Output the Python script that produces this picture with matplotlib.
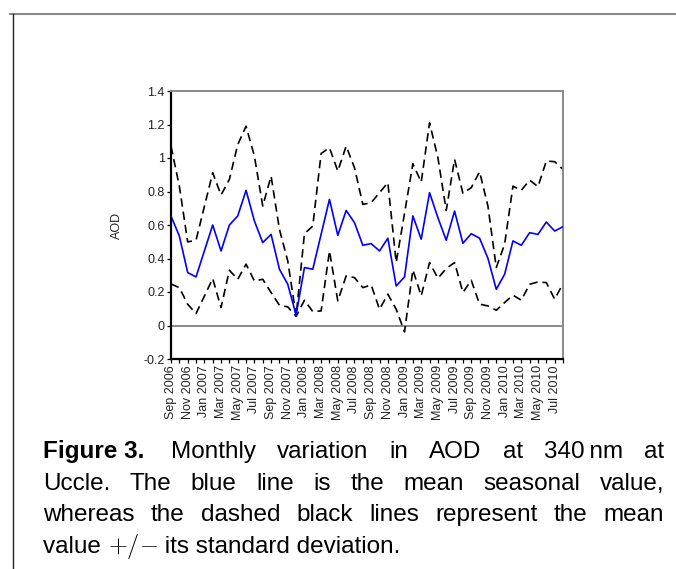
import matplotlib
matplotlib.use("Agg")
import matplotlib.pyplot as plt
from matplotlib.lines import Line2D
import pandas as pd

plt.rcParams['font.family'] = ['Liberation Sans', 'DejaVu Sans']

# monthly AOD at 340 nm, Sep 2006 .. Aug 2010
months = pd.date_range('2006-09-01', periods=48, freq='MS').strftime('%b %Y').tolist()

aod_mean = [0.654, 0.534, 0.316, 0.290, 0.445, 0.600, 0.445, 0.600, 0.654, 0.807,
            0.624, 0.495, 0.544, 0.336, 0.246, 0.063, 0.346, 0.336, 0.545, 0.753,
            0.538, 0.687, 0.614, 0.479, 0.489, 0.445, 0.521, 0.236, 0.290, 0.654,
            0.515, 0.793, 0.644, 0.509, 0.683, 0.491, 0.548, 0.521, 0.401, 0.216,
            0.306, 0.505, 0.479, 0.554, 0.544, 0.618, 0.564, 0.590]
aod_upper = [1.071, 0.832, 0.499, 0.509, 0.710, 0.912, 0.779, 0.872, 1.080, 1.190,
             1.011, 0.713, 0.892, 0.574, 0.385, 0.057, 0.548, 0.594, 1.027, 1.061,
             0.922, 1.071, 0.942, 0.723, 0.733, 0.793, 0.853, 0.376, 0.670, 0.966,
             0.856, 1.210, 1.002, 0.687, 0.992, 0.789, 0.823, 0.918, 0.713, 0.346,
             0.485, 0.832, 0.807, 0.868, 0.829, 0.982, 0.978, 0.932]
aod_lower = [0.248, 0.226, 0.127, 0.071, 0.175, 0.280, 0.107, 0.330, 0.276, 0.366,
             0.266, 0.276, 0.197, 0.121, 0.111, 0.054, 0.151, 0.083, 0.087, 0.445,
             0.147, 0.296, 0.286, 0.226, 0.242, 0.097, 0.187, 0.097, -0.038, 0.332,
             0.177, 0.376, 0.282, 0.340, 0.376, 0.197, 0.270, 0.127, 0.117, 0.091,
             0.137, 0.181, 0.151, 0.246, 0.260, 0.256, 0.157, 0.250]

W, H = 676, 569
fig = plt.figure(figsize=(W / 100, H / 100), dpi=100)

def fx(px):
    return px / W

def fy(py):
    return 1 - py / H

# page frame lines
fig.add_artist(Line2D([fx(10), 1], [fy(14), fy(14)], color='#8a8a8a', lw=1.5))
fig.add_artist(Line2D([fx(13), fx(13)], [fy(14), 0], color='#222222', lw=1.0))

ax = fig.add_axes([fx(171), fy(359), fx(563) - fx(171), fy(91) - fy(359)])
x = list(range(len(months)))

ax.axhline(0, color='#8a8a8a', lw=1.4, zorder=1)
ax.plot(x, aod_upper, color='black', lw=1.2, dashes=(5, 3), zorder=2)
ax.plot(x, aod_lower, color='black', lw=1.2, dashes=(5, 3), zorder=2)
ax.plot(x, aod_mean, color='#0000ff', lw=1.2, zorder=3)

ax.set_xlim(0, len(months) - 1)
ax.set_ylim(-0.2, 1.4)
ax.set_yticks([-0.2, 0, 0.2, 0.4, 0.6, 0.8, 1, 1.2, 1.4])
ax.set_yticklabels(['-0.2', '0', '0.2', '0.4', '0.6', '0.8', '1', '1.2', '1.4'],
                   fontsize=9, color='#222222')
ax.set_xticks(x[::2])
ax.set_xticklabels(months[::2], rotation=90, fontsize=9, color='#222222')
ax.set_xticks(x[1::2], minor=True)
ax.tick_params(axis='both', which='both', direction='out', length=3, width=0.9, pad=1.5)
ax.set_ylabel('AOD', fontsize=9, color='#222222', labelpad=15)

for side in ['left', 'bottom']:
    ax.spines[side].set_color('black')
    ax.spines[side].set_linewidth(1.6)
for side in ['top', 'right']:
    ax.spines[side].set_color('#8a8a8a')
    ax.spines[side].set_linewidth(1.4)

# caption, justified line by line
caption = [
    [('Figure 3.', 'bold'), ('Monthly', 'normal'), ('variation', 'normal'),
     ('in', 'normal'), ('AOD', 'normal'), ('at', 'normal'),
     ('340\u2009nm', 'normal'), ('at', 'normal')],
    [('Uccle.', 'normal'), ('The', 'normal'), ('blue', 'normal'),
     ('line', 'normal'), ('is', 'normal'), ('the', 'normal'),
     ('mean', 'normal'), ('seasonal', 'normal'), ('value,', 'normal')],
    [('whereas', 'normal'), ('the', 'normal'), ('dashed', 'normal'),
     ('black', 'normal'), ('lines', 'normal'), ('represent', 'normal'),
     ('the', 'normal'), ('mean', 'normal')],
]
baselines = [458, 490, 521, 553]
left_px, right_px = 43, 664
cap_size = 17.5

fig.canvas.draw()
renderer = fig.canvas.get_renderer()
for line, base in zip(caption, baselines):
    texts = []
    widths = []
    for word, weight in line:
        t = fig.text(0, fy(base), word, fontsize=cap_size, fontweight=weight,
                     va='baseline', ha='left', color='black')
        texts.append(t)
        widths.append(t.get_window_extent(renderer).width)
    # "Figure 3." is followed by a wider space
    extra = [0] * len(texts)
    if line[0][1] == 'bold':
        extra[0] = 6
    gap = (right_px - left_px - sum(widths) - sum(extra)) / (len(texts) - 1)
    pos = left_px
    for t, w, e in zip(texts, widths, extra):
        t.set_x(fx(pos))
        pos += w + gap + e

# last line is not justified
t1 = fig.text(fx(left_px), fy(baselines[3]), 'value ', fontsize=cap_size, va='baseline')
w1 = t1.get_window_extent(renderer).width
t2 = fig.text(fx(left_px + w1), fy(baselines[3]), r'$+/\!-$', fontsize=cap_size,
              va='baseline', math_fontfamily='cm')
w2 = t2.get_window_extent(renderer).width
fig.text(fx(left_px + w1 + w2), fy(baselines[3]), ' its standard deviation.',
         fontsize=cap_size, va='baseline')

fig.savefig('out.png', dpi=100)
